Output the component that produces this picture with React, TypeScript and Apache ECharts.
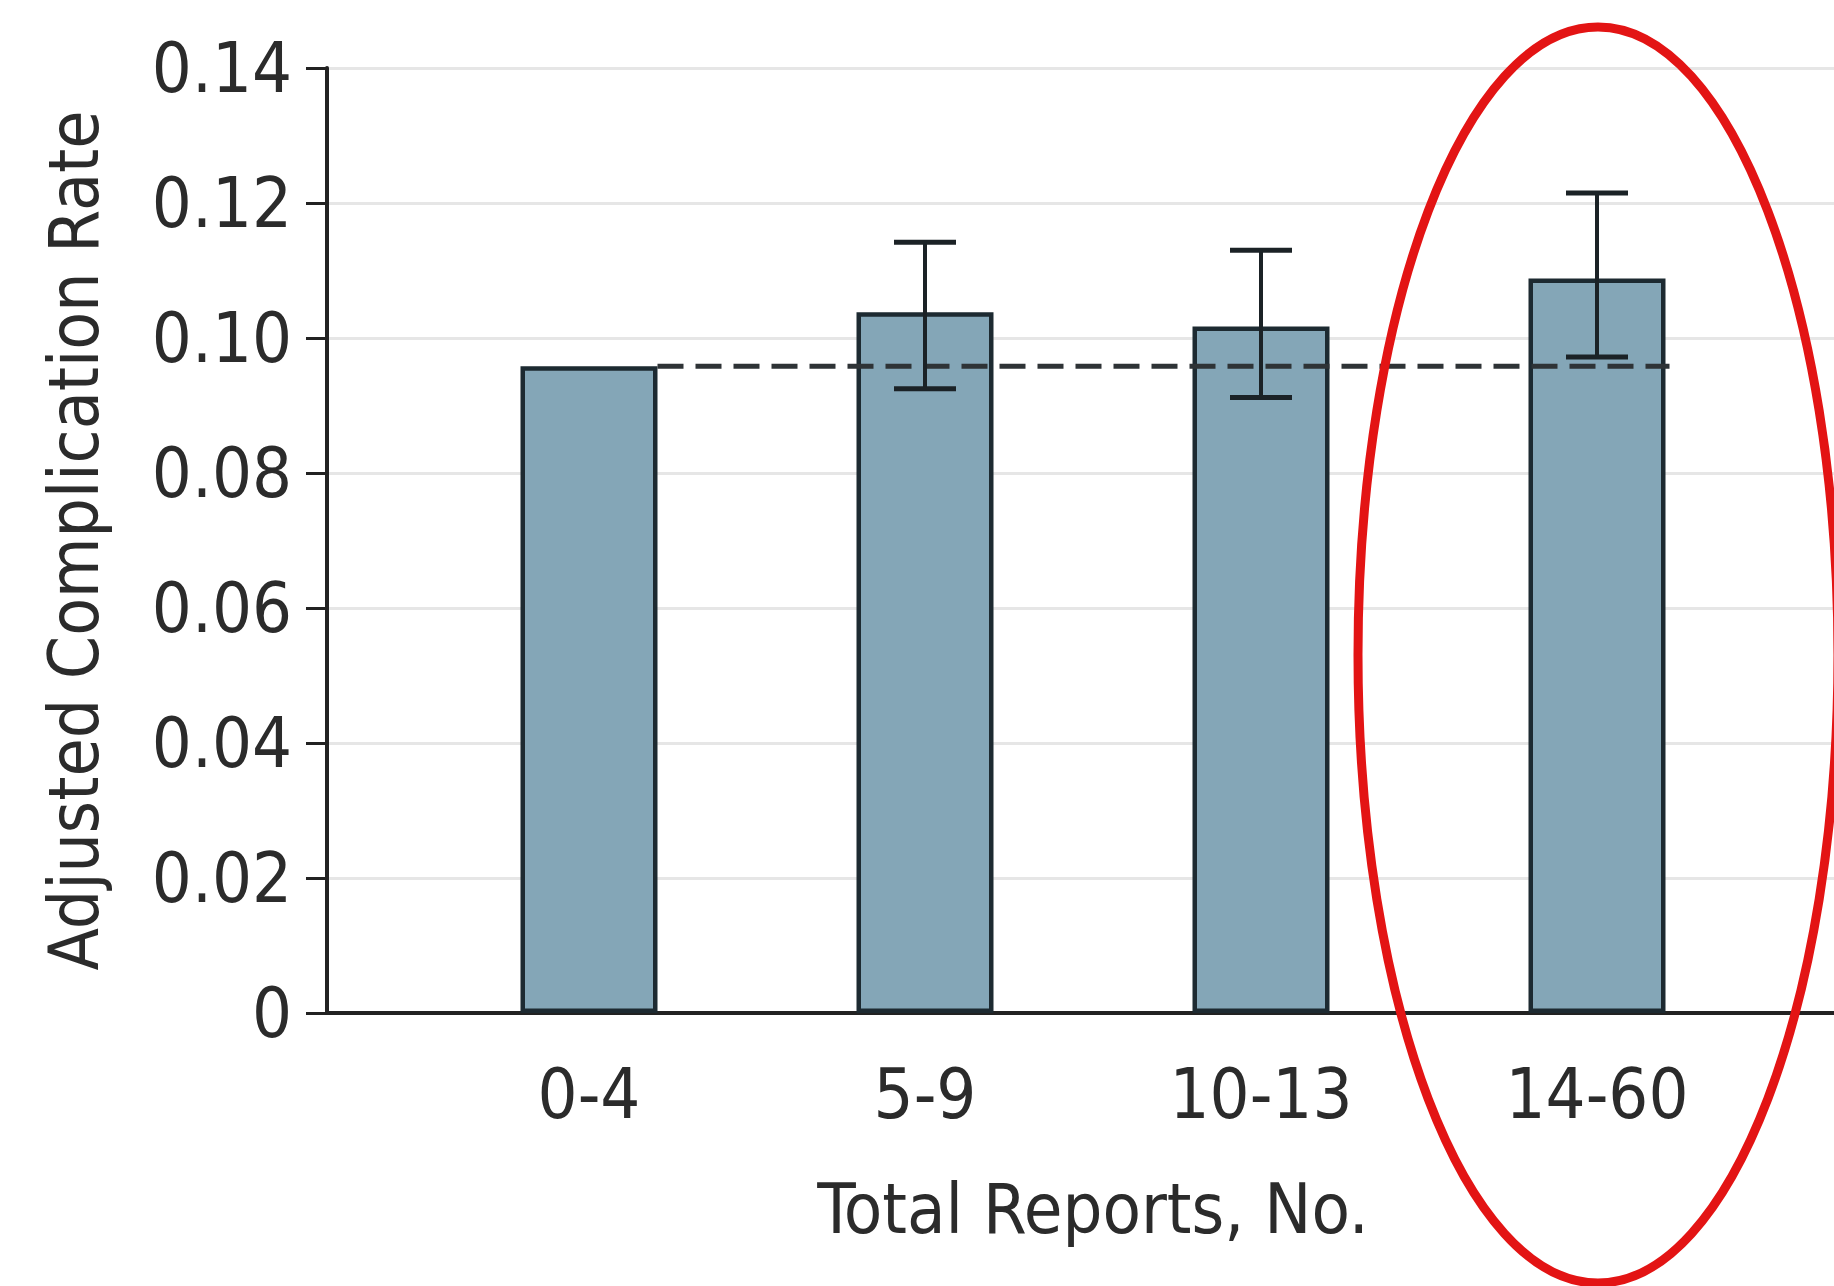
import React, { useEffect, useRef } from "react";
import * as echarts from "echarts";

const categories = ["0-4", "5-9", "10-13", "14-60"];
const rates = [0.0958, 0.1038, 0.1017, 0.1088];
const ciLow = [null, 0.0925, 0.0912, 0.0972];
const ciHigh = [null, 0.1142, 0.1130, 0.1215];
const referenceRate = [0.0958];
const yTicks = [0, 0.02, 0.04, 0.06, 0.08, 0.1, 0.12, 0.14];

const FONT = "'DejaVu Sans Condensed', 'Liberation Sans Narrow', 'Open Sans', sans-serif";
const TEXT = "#2b2b2b";
const BAR_W = 137;

export default function App() {
  const ref = useRef<HTMLDivElement>(null);
  useEffect(() => {
    if (!ref.current) return;
    const chart = echarts.init(ref.current, null, { renderer: "svg" });
    const errData = categories
      .map((_, i) => (ciLow[i] == null ? null : [i, ciLow[i], ciHigh[i]]))
      .filter((d) => d != null);
    chart.setOption({
      animation: false,
      backgroundColor: "#ffffff",
      textStyle: { fontFamily: FONT },
      grid: [
        { left: 327, right: 0, top: 68, bottom: 273 },
        { left: 421, width: 1344, top: 68, bottom: 273 },
      ],
      xAxis: [
        {
          type: "value",
          gridIndex: 0,
          min: 0,
          max: 1,
          axisLine: { show: true, lineStyle: { color: "#222", width: 4 } },
          axisTick: { show: false },
          axisLabel: { show: false },
          splitLine: { show: false },
        },
        {
          type: "category",
          gridIndex: 1,
          data: categories,
          axisLine: { show: false },
          axisTick: { show: false },
          axisLabel: {
            fontSize: 70,
            color: TEXT,
            fontFamily: FONT,
            margin: 46,
          },
          name: "Total Reports, No.",
          nameLocation: "middle",
          nameGap: 161,
          nameTextStyle: { fontSize: 70, color: TEXT, fontFamily: FONT },
        },
      ],
      yAxis: [
        {
          type: "value",
          gridIndex: 0,
          min: 0,
          max: 0.14,
          interval: 0.02,
          axisLine: { show: true, lineStyle: { color: "#222", width: 4 } },
          axisTick: { show: true, length: 21, lineStyle: { color: "#222", width: 3 } },
          axisLabel: {
            fontSize: 70,
            color: TEXT,
            fontFamily: FONT,
            margin: 35,
            formatter: (v: number) => {
              const t = yTicks.find((x) => Math.abs(x - v) < 1e-9);
              const val = t ?? v;
              return val === 0 ? "0" : val.toFixed(2);
            },
          },
          splitLine: { show: true, lineStyle: { color: "#e6e6e6", width: 3 } },
          name: "Adjusted Complication Rate",
          nameLocation: "middle",
          nameRotate: 90,
          nameGap: 219,
          nameTextStyle: { fontSize: 69, color: TEXT, fontFamily: FONT },
        },
        {
          type: "value",
          gridIndex: 1,
          min: 0,
          max: 0.14,
          interval: 0.02,
          show: false,
        },
      ],
      series: [
        {
          type: "bar",
          xAxisIndex: 1,
          yAxisIndex: 1,
          data: rates,
          barWidth: BAR_W,
          itemStyle: { color: "#84a6b7", borderColor: "#1d2a31", borderWidth: 4.5 },
          z: 2,
        },
        {
          type: "custom",
          xAxisIndex: 1,
          yAxisIndex: 1,
          data: [[0, categories.length - 1, referenceRate[0]]],
          z: 3,
          renderItem: (params: any, api: any) => {
            const a = api.coord([api.value(0), api.value(2)]);
            const b = api.coord([api.value(1), api.value(2)]);
            return {
              type: "line",
              shape: { x1: a[0] + BAR_W / 2, y1: a[1], x2: b[0] + BAR_W / 2 + 4, y2: b[1] },
              style: { stroke: "#2e3336", lineWidth: 5, lineDash: [26, 12] },
            };
          },
        },
        {
          type: "custom",
          xAxisIndex: 1,
          yAxisIndex: 1,
          data: errData,
          z: 4,
          renderItem: (params: any, api: any) => {
            const lo = api.coord([api.value(0), api.value(1)]);
            const hi = api.coord([api.value(0), api.value(2)]);
            const half = 31;
            const stroke = { stroke: "#1b2226", lineWidth: 4 };
            return {
              type: "group",
              children: [
                { type: "line", shape: { x1: lo[0], y1: lo[1], x2: hi[0], y2: hi[1] }, style: stroke },
                { type: "line", shape: { x1: hi[0] - half, y1: hi[1], x2: hi[0] + half, y2: hi[1] }, style: { stroke: "#1b2226", lineWidth: 5 } },
                { type: "line", shape: { x1: lo[0] - half, y1: lo[1], x2: lo[0] + half, y2: lo[1] }, style: { stroke: "#1b2226", lineWidth: 5 } },
              ],
            };
          },
        },
      ],
      graphic: [
        {
          type: "ellipse",
          shape: { cx: 1598, cy: 655, rx: 240, ry: 628 },
          style: { fill: "none", stroke: "#e31414", lineWidth: 9 },
          z: 100,
        },
      ],
    });
    return () => chart.dispose();
  }, []);
  return (
    <div
      ref={ref}
      style={{ position: "fixed", left: 0, top: 0, width: 1834, height: 1286, background: "#fff" }}
    />
  );
}
